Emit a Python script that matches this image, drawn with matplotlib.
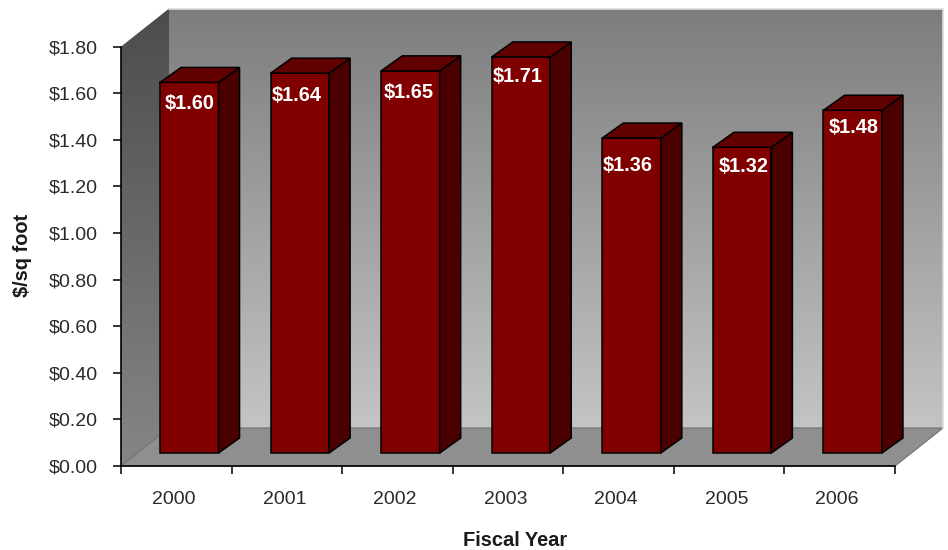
import numpy as np
import matplotlib
matplotlib.use('Agg')
import matplotlib.pyplot as plt
from matplotlib.patches import Polygon

plt.rcParams['font.family'] = ['Liberation Sans', 'DejaVu Sans']

# chart values
years = ['2000', '2001', '2002', '2003', '2004', '2005', '2006']
cost = [1.60, 1.64, 1.65, 1.71, 1.36, 1.32, 1.48]
cost_labels = ['$1.60', '$1.64', '$1.65', '$1.71', '$1.36', '$1.32', '$1.48']
y_ticks = [0.0, 0.2, 0.4, 0.6, 0.8, 1.0, 1.2, 1.4, 1.6, 1.8]

W, H = 948, 550
fig = plt.figure(figsize=(W / 100, H / 100), dpi=100, facecolor='white')

# front plane of the fake 3d box, in pixels
left, right, top, bottom = 121, 895, 46.6, 466
ax = fig.add_axes([left / W, 1 - bottom / H, (right - left) / W, (bottom - top) / H])
ax.set_xlim(-0.5, len(years) - 0.5)
ax.set_ylim(0, 1.8)
ax.patch.set_visible(False)

# pixels -> data units
px_x = (len(years)) / (right - left)
px_y = 1.8 / (bottom - top)

# depth of the box and of the bars (pixels)
wall_dx, wall_dy = 48 * px_x, 38 * px_y
bar_dx, bar_dy = 21 * px_x, 15 * px_y
front_dx, front_dy = 13 * px_x, 13 * px_y
bar_w = 58.5 * px_x
bar_scale = 0.994  # bars come out a touch shorter than the ticks in the original

x0, x1 = ax.get_xlim()
y0, y1 = ax.get_ylim()


def gradient(poly_pts, colors, z=1):
    poly = Polygon(poly_pts, closed=True, fc='none', ec='none', transform=ax.transData)
    ax.add_patch(poly)
    c0 = np.array(matplotlib.colors.to_rgb(colors[0]))
    c1 = np.array(matplotlib.colors.to_rgb(colors[1]))
    t = np.linspace(0, 1, 256)[:, None]
    img = (c0 * (1 - t) + c1 * t)[:, None, :]
    xs = [p[0] for p in poly_pts]
    ys = [p[1] for p in poly_pts]
    im = ax.imshow(img, extent=(min(xs), max(xs), min(ys), max(ys)), origin='upper',
                   aspect='auto', zorder=z, interpolation='bilinear')
    im.set_clip_box(fig.bbox)
    im.set_clip_path(poly)


# back wall
back = [(x0 + wall_dx, y0 + wall_dy), (x1 + wall_dx, y0 + wall_dy),
        (x1 + wall_dx, y1 + wall_dy), (x0 + wall_dx, y1 + wall_dy)]
gradient(back, ('#7d7d7d', '#c4c4c4'))

# left wall
side = [(x0, y0), (x0 + wall_dx, y0 + wall_dy), (x0 + wall_dx, y1 + wall_dy), (x0, y1)]
gradient(side, ('#4c4c4c', '#868686'))

# floor
floor = [(x0, y0), (x1, y0), (x1 + wall_dx, y0 + wall_dy), (x0 + wall_dx, y0 + wall_dy)]
ax.add_patch(Polygon(floor, closed=True, fc='#8f8f8f', ec='#707070', lw=0.8, zorder=2, clip_on=False))

# thin light rim on top and right of the back wall
ax.plot([x0 + wall_dx, x1 + wall_dx, x1 + wall_dx],
        [y1 + wall_dy, y1 + wall_dy, y0 + wall_dy],
        color='#dcdcdc', lw=1.2, zorder=2, clip_on=False)

# bars
for i, v in enumerate(cost):
    xl = i - bar_w / 2 + front_dx
    xr = xl + bar_w
    yb = front_dy
    yt = yb + v * bar_scale
    z = 3
    ax.add_patch(Polygon([(xl, yb), (xr, yb), (xr, yt), (xl, yt)], closed=True,
                         fc='#800000', ec='black', lw=1.1, zorder=z, clip_on=False))
    ax.add_patch(Polygon([(xr, yb), (xr + bar_dx, yb + bar_dy), (xr + bar_dx, yt + bar_dy), (xr, yt)],
                         closed=True, fc='#4a0000', ec='black', lw=1.1, zorder=z, clip_on=False))
    ax.add_patch(Polygon([(xl, yt), (xr, yt), (xr + bar_dx, yt + bar_dy), (xl + bar_dx, yt + bar_dy)],
                         closed=True, fc='#600000', ec='black', lw=1.1, zorder=z, clip_on=False))

# value labels, hand placed in the original so each one gets its own nudge (pixels)
nudge_x = [0, -3, -2, -3, -4, 2, 1]
nudge_y = [21, 22, 22, 20, 27, 19, 17]
for i, (v, s) in enumerate(zip(cost, cost_labels)):
    ax.text(i + front_dx + nudge_x[i] * px_x,
            front_dy + v * bar_scale - nudge_y[i] * px_y,
            s, color='white', fontsize=14.4, fontweight='bold',
            ha='center', va='center', zorder=5, clip_on=False)

# axes
for s in ['top', 'right']:
    ax.spines[s].set_visible(False)
for s in ['left', 'bottom']:
    ax.spines[s].set_linewidth(1.2)
    ax.spines[s].set_zorder(6)

ax.set_yticks(y_ticks)
ax.set_yticklabels(['${:.2f}'.format(t) for t in y_ticks])
ax.set_xticks(np.arange(len(years) + 1) - 0.5)
ax.set_xticklabels([])
# year labels sit a little left of the category centres
ax.set_xticks(np.arange(len(years)) - 2.5 * px_x, minor=True)
ax.set_xticklabels(years, minor=True)
ax.tick_params(axis='y', length=5.5, width=1.1, pad=11.5, labelsize=14, labelcolor='#2a2a2a')
ax.tick_params(axis='x', which='major', length=5.5, width=1.1)
ax.tick_params(axis='x', which='minor', length=0, pad=18, labelsize=14, labelcolor='#2a2a2a')

fig.text(515 / W, 1 - 540 / H, 'Fiscal Year', fontsize=14.4, fontweight='bold',
         color='#1a1a1a', ha='center', va='center')
fig.text(22 / W, 1 - 255 / H, '$/sq foot', fontsize=14.4, fontweight='bold', rotation=90,
         color='#1a1a1a', ha='center', va='center', parse_math=False)

ax.set_xlim(x0, x1)
ax.set_ylim(y0, y1)

fig.savefig('out.png', dpi=100)
